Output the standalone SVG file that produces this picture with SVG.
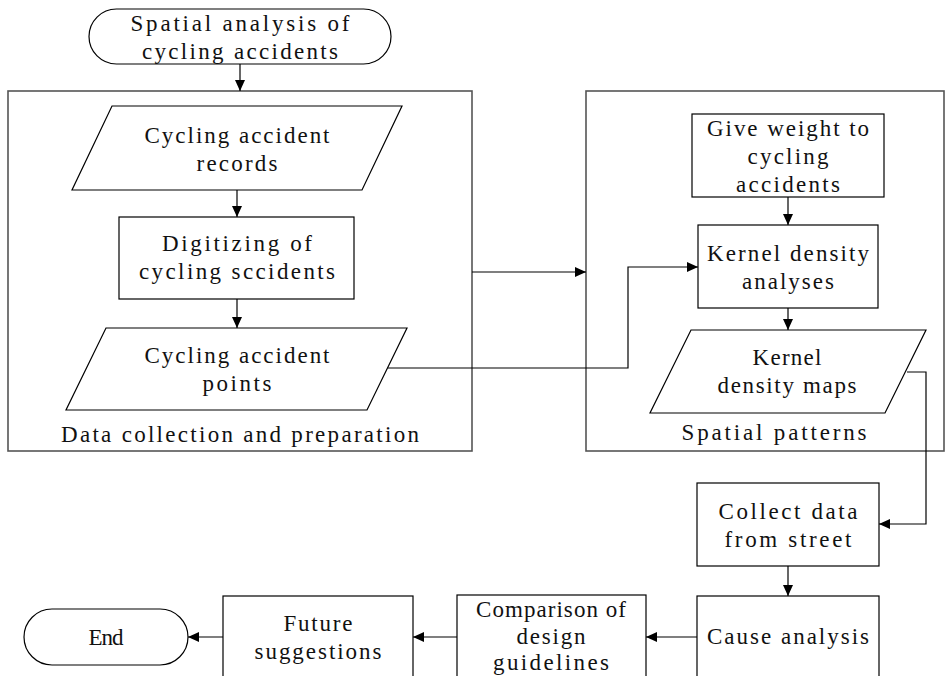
<svg xmlns="http://www.w3.org/2000/svg" width="951" height="676" viewBox="0 0 951 676">
<style>
.n{fill:#fff;stroke:#000;stroke-width:1.2}
.g{fill:none;stroke:#555;stroke-width:1.6}
.t{font-family:"Liberation Serif","Times New Roman",serif;font-size:23px;fill:#111;text-anchor:middle}
.c{fill:none;stroke:#000;stroke-width:1.2}
</style>
<defs>
<marker id="ah" markerUnits="userSpaceOnUse" markerWidth="12" markerHeight="10" refX="11" refY="5" orient="auto">
<path d="M0,0 L11,5 L0,10 Z" fill="#000"/>
</marker>
</defs>
<rect width="951" height="676" fill="#fff"/>
<g id="group-data">
<rect class="g" x="8" y="91" width="464" height="360"/>
<text class="t" x="240" y="442" textLength="358" lengthAdjust="spacing">Data collection and preparation</text>
</g>
<g id="group-spatial">
<rect class="g" x="586" y="91" width="358" height="360"/>
<text class="t" x="774" y="440" textLength="185" lengthAdjust="spacing">Spatial patterns</text>
</g>
<g id="start">
<rect class="n" x="89" y="9" width="302" height="55" rx="27.5"/>
<text class="t" x="240" y="31" textLength="219" lengthAdjust="spacing">Spatial analysis of</text>
<text class="t" x="240" y="59" textLength="196" lengthAdjust="spacing">cycling accidents</text>
</g>
<g id="records">
<polygon class="n" points="112,106 402,106 362,190 72,190"/>
<text class="t" x="237" y="143" textLength="185" lengthAdjust="spacing">Cycling accident</text>
<text class="t" x="237" y="171" textLength="81" lengthAdjust="spacing">records</text>
</g>
<g id="digitizing">
<rect class="n" x="119" y="217" width="235" height="82"/>
<text class="t" x="237" y="251" textLength="150" lengthAdjust="spacing">Digitizing of</text>
<text class="t" x="237" y="279" textLength="196" lengthAdjust="spacing">cycling sccidents</text>
</g>
<g id="points">
<polygon class="n" points="106,328 407,328 367,410 66,410"/>
<text class="t" x="237" y="363" textLength="185" lengthAdjust="spacing">Cycling accident</text>
<text class="t" x="237" y="391" textLength="69" lengthAdjust="spacing">points</text>
</g>
<g id="weight">
<rect class="n" x="692" y="114" width="192" height="83"/>
<text class="t" x="788" y="136" textLength="162" lengthAdjust="spacing">Give weight to</text>
<text class="t" x="788" y="164" textLength="81" lengthAdjust="spacing">cycling</text>
<text class="t" x="788" y="192" textLength="104" lengthAdjust="spacing">accidents</text>
</g>
<g id="kernel-analyses">
<rect class="n" x="698" y="225" width="180" height="83"/>
<text class="t" x="788" y="261" textLength="162" lengthAdjust="spacing">Kernel density</text>
<text class="t" x="788" y="289" textLength="92" lengthAdjust="spacing">analyses</text>
</g>
<g id="kernel-maps">
<polygon class="n" points="691,330 926,330 885,413 650,413"/>
<text class="t" x="787" y="365" textLength="69" lengthAdjust="spacing">Kernel</text>
<text class="t" x="787" y="393" textLength="139" lengthAdjust="spacing">density maps</text>
</g>
<g id="collect">
<rect class="n" x="697" y="483" width="182" height="83"/>
<text class="t" x="788" y="519" textLength="139" lengthAdjust="spacing">Collect data</text>
<text class="t" x="788" y="547" textLength="127" lengthAdjust="spacing">from street</text>
</g>
<g id="cause">
<rect class="n" x="697" y="596" width="182" height="100"/>
<text class="t" x="788" y="644" textLength="162" lengthAdjust="spacing">Cause analysis</text>
</g>
<g id="comparison">
<rect class="n" x="457" y="595" width="189" height="100"/>
<text class="t" x="551" y="617" textLength="150" lengthAdjust="spacing">Comparison of</text>
<text class="t" x="551" y="644" textLength="69" lengthAdjust="spacing">design</text>
<text class="t" x="551" y="670" textLength="116" lengthAdjust="spacing">guidelines</text>
</g>
<g id="future">
<rect class="n" x="223" y="596" width="190" height="100"/>
<text class="t" x="318" y="631" textLength="69" lengthAdjust="spacing">Future</text>
<text class="t" x="318" y="659" textLength="127" lengthAdjust="spacing">suggestions</text>
</g>
<g id="end">
<rect class="n" x="24" y="609" width="164" height="56" rx="28"/>
<text class="t" x="106" y="645" textLength="35" lengthAdjust="spacing">End</text>
</g>
<g id="connectors">
<line class="c" x1="240" y1="64" x2="240" y2="91" marker-end="url(#ah)"/>
<line class="c" x1="237" y1="190" x2="237" y2="217" marker-end="url(#ah)"/>
<line class="c" x1="237" y1="299" x2="237" y2="328" marker-end="url(#ah)"/>
<line class="c" x1="472" y1="272" x2="586" y2="272" marker-end="url(#ah)"/>
<polyline class="c" points="388,368 628,368 628,267 698,267" marker-end="url(#ah)"/>
<line class="c" x1="788" y1="197" x2="788" y2="225" marker-end="url(#ah)"/>
<line class="c" x1="788" y1="308" x2="788" y2="330" marker-end="url(#ah)"/>
<polyline class="c" points="907,372 926,372 926,524 879,524" marker-end="url(#ah)"/>
<line class="c" x1="788" y1="566" x2="788" y2="596" marker-end="url(#ah)"/>
<line class="c" x1="697" y1="637" x2="646" y2="637" marker-end="url(#ah)"/>
<line class="c" x1="457" y1="637" x2="413" y2="637" marker-end="url(#ah)"/>
<line class="c" x1="223" y1="637" x2="188" y2="637" marker-end="url(#ah)"/>
</g>
</svg>
